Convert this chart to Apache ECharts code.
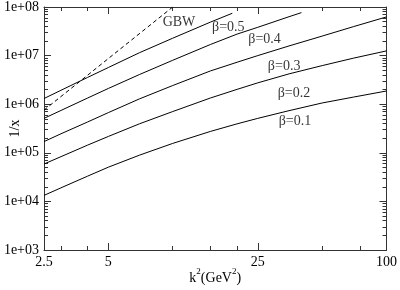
<!DOCTYPE html>
<html>
<head>
<meta charset="utf-8">
<script src="https://cdn.jsdelivr.net/npm/echarts@6/dist/echarts.min.js"></script>
<style>html,body{margin:0;padding:0;background:#fff;}#c{width:400px;height:290px;}</style>
</head>
<body>
<div id="c"></div>
<script>
// ---- data ----
const xGrid = [2.5, 3, 4, 5, 7, 10, 15, 20, 25, 35, 50, 70, 100];
const beta01 = [1.33e4, 1.90e4, 3.31e4, 5.06e4, 8.97e4, 1.56e5, 2.75e5, 3.94e5, 5.11e5, 7.36e5, 1.06e6, 1.40e6, 1.87e6];
const beta02 = [5.88e4, 8.32e4, 1.44e5, 2.17e5, 3.96e5, 7.06e5, 1.34e6, 2.02e6, 2.75e6, 4.21e6, 6.22e6, 8.85e6, 1.25e7];
const beta03 = [1.70e5, 2.46e5, 4.31e5, 6.71e5, 1.29e6, 2.42e6, 4.83e6, 7.30e6, 1.00e7, 1.58e7, 2.52e7, 3.94e7, 6.25e7];
const beta04X = [2.5, 3, 4, 5, 7, 10, 15, 20, 25, 35, 40];
const beta04 = [5.11e5, 7.43e5, 1.34e6, 2.11e6, 4.09e6, 8.01e6, 1.69e7, 2.77e7, 3.82e7, 6.31e7, 7.66e7];
const beta05X = [2.5, 3, 4, 5, 7, 10, 15, 19];
const beta05 = [1.31e6, 1.93e6, 3.56e6, 5.69e6, 1.15e7, 2.28e7, 4.88e7, 7.43e7];
const gbwX = [2.5, 5, 10];
const gbwY = [7.55e5, 8.7e6, 1.0e8];

const curveNames = ['β=0.5', 'β=0.4', 'β=0.3', 'β=0.2', 'β=0.1'];
const labelNames = ['GBW', 'β=0.5', 'β=0.4', 'β=0.3', 'β=0.2', 'β=0.1'];
const labelX = [10.7, 18.2, 26.9, 33.2, 36.9, 37.3];
const labelY = [4.94e7, 3.73e7, 2.12e7, 5.97e6, 1.68e6, 4.50e5];

const xMajorTicks = [2.5, 5, 25, 100];
const xMinorTicks = [3, 4, 10, 15, 20, 50, 75];
const yDecades = [3, 4, 5, 6, 7, 8];
const yMinorMantissa = [2, 3, 4, 5, 6, 7, 8, 9];
const xMin = 2.5, xMax = 100, yMin = 1e3, yMax = 1e8;

// ---- build ----
const FONT = 'Liberation Serif';
const AX = '#333';
const lg = Math.log10;
const xMajorL = xMajorTicks.map(lg);
const xMinorL = xMinorTicks.map(lg);
const yMinorL = [];
yDecades.slice(0, -1).forEach(d => yMinorMantissa.forEach(m => yMinorL.push(d + lg(m))));

function tickAxis(pos, min, max, values, len, labels, line, fmt) {
  return {
    type: 'value', position: pos, min: min, max: max,
    axisLine: { show: line, lineStyle: { color: AX, width: 1 } },
    axisTick: { show: true, inside: true, length: len, customValues: values, lineStyle: { color: AX, width: 1 } },
    axisLabel: labels ? { show: true, customValues: values, formatter: fmt, fontFamily: FONT, fontSize: 14, color: '#000', margin: 5 } : { show: false },
    splitLine: { show: false }, minorTick: { show: false }
  };
}
const xFmt = v => String(Math.round(Math.pow(10, v) * 10) / 10);
const yFmt = v => '1e+0' + Math.round(v);

const pairs = (xs, ys) => xs.map((x, i) => [x, ys[i]]);
const solid = { color: '#000', width: 1 };

const option = {
  animation: false,
  backgroundColor: '#fff',
  grid: { left: 40, right: 9, top: 6, bottom: 39, containLabel: false },
  xAxis: [
    { type: 'log', logBase: 10, min: xMin, max: xMax, position: 'bottom',
      axisLine: { show: true, lineStyle: { color: AX, width: 1 } },
      axisTick: { show: false }, axisLabel: { show: false }, splitLine: { show: false }, minorTick: { show: false },
      name: '{m|k}{s|2}{m|(GeV}{s|2}{m|)}', nameLocation: 'middle', nameGap: 17,
      nameTextStyle: { fontFamily: FONT, fontSize: 14, color: '#000',
        rich: {
          m: { fontFamily: FONT, fontSize: 14, color: '#000', lineHeight: 18, verticalAlign: 'bottom' },
          s: { fontFamily: FONT, fontSize: 9, color: '#000', lineHeight: 10, verticalAlign: 'top' }
        } } },
    tickAxis('bottom', lg(xMin), lg(xMax), xMajorL, 7, true, false, xFmt),
    tickAxis('bottom', lg(xMin), lg(xMax), xMinorL, 4, false, false),
    tickAxis('top', lg(xMin), lg(xMax), xMajorL, 7, false, true),
    tickAxis('top', lg(xMin), lg(xMax), xMinorL, 4, false, false)
  ],
  yAxis: [
    { type: 'log', logBase: 10, min: yMin, max: yMax, position: 'left',
      axisLine: { show: true, lineStyle: { color: AX, width: 1 } },
      axisTick: { show: false }, axisLabel: { show: false }, splitLine: { show: false }, minorTick: { show: false },
      name: '1/x', nameLocation: 'middle', nameGap: 22, nameRotate: 90,
      nameTextStyle: { fontFamily: FONT, fontSize: 14, color: '#000' } },
    tickAxis('left', 3, 8, yDecades, 7, true, false, yFmt),
    tickAxis('left', 3, 8, yMinorL, 4, false, false),
    tickAxis('right', 3, 8, yDecades, 7, false, true),
    tickAxis('right', 3, 8, yMinorL, 4, false, false)
  ],
  series: [
    { name: 'GBW', type: 'line', data: pairs(gbwX, gbwY), showSymbol: false, silent: true,
      lineStyle: { color: '#000', width: 1, type: [4, 3] } },
    { name: curveNames[0], type: 'line', data: pairs(beta05X, beta05), showSymbol: false, silent: true, lineStyle: solid },
    { name: curveNames[1], type: 'line', data: pairs(beta04X, beta04), showSymbol: false, silent: true, lineStyle: solid },
    { name: curveNames[2], type: 'line', data: pairs(xGrid, beta03), showSymbol: false, silent: true, lineStyle: solid },
    { name: curveNames[3], type: 'line', data: pairs(xGrid, beta02), showSymbol: false, silent: true, lineStyle: solid },
    { name: curveNames[4], type: 'line', data: pairs(xGrid, beta01), showSymbol: false, silent: true, lineStyle: solid },
    { name: 'labels', type: 'scatter', silent: true, symbolSize: 1,
      itemStyle: { color: 'transparent' },
      data: labelNames.map((n, i) => ({ name: n, value: [labelX[i], labelY[i]] })),
      label: { show: true, position: 'inside', formatter: p => p.name, fontFamily: FONT, fontSize: 14, color: '#000' } }
  ]
};
echarts.init(document.getElementById('c'), null, { renderer: 'canvas' }).setOption(option);
</script>
</body>
</html>
